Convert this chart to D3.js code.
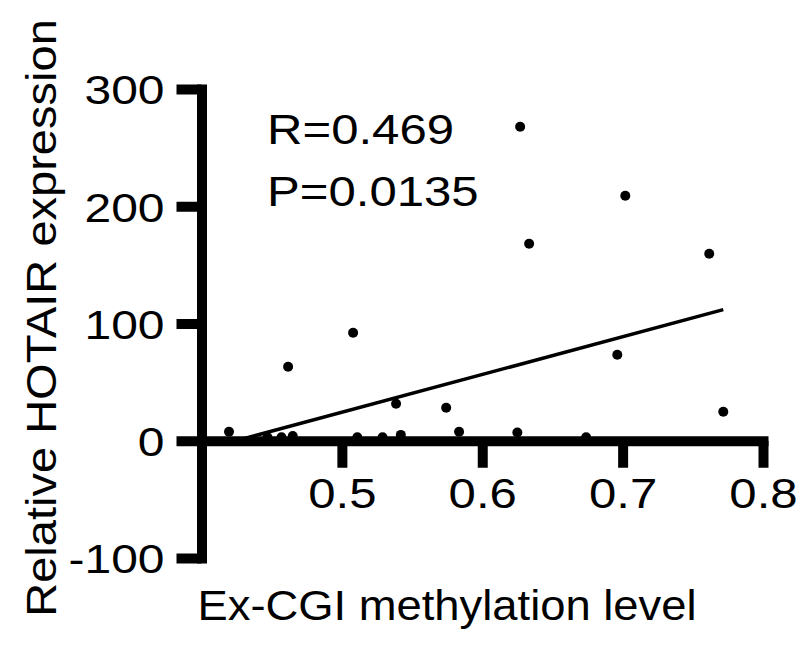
<!DOCTYPE html>
<html>
<head>
<meta charset="utf-8">
<script src="https://cdn.jsdelivr.net/npm/d3@7"></script>
<style>
  body { margin: 0; background: #fff; }
  svg { display: block; }
  text { font-family: "Liberation Sans", Arial, sans-serif; fill: #000; }
</style>
</head>
<body>
<div id="chart"></div>
<script>
// methylation level (x) and relative expression (y) of each sample
const methylation = [0.4196, 0.4617, 0.508, 0.5386, 0.5743, 0.5835, 0.627, 0.6334, 0.7019, 0.6962,
  0.7617, 0.7717, 0.447, 0.457, 0.465, 0.511, 0.529, 0.542, 0.625, 0.674];
const expression = [7.7, 63.1, 92.1, 31.6, 28.1, 7.7, 267.8, 168, 209, 73.3,
  159.5, 24.7, 3, 3, 4, 3, 3, 5, 7, 3];
const xTickValues = [0.5, 0.6, 0.7, 0.8];
const yTickValues = [-100, 0, 100, 200, 300];
// linear fit
const fitSlope = 322;
const fitIntercept = -136.7;
const fitRange = [0.4196, 0.7717];
const statLabels = ['R=0.469', 'P=0.0135'];

const width = 802;
const height = 650;
const stretch = 1.17;

const svg = d3.select('#chart').append('svg')
  .attr('width', width)
  .attr('height', height);

const xScale = d3.scaleLinear().domain([0.4, 0.8]).range([201.5, 763]);
const yScale = d3.scaleLinear().domain([-100, 300]).range([558, 89]);

// y軸
const yAxis = svg.append('g')
  .attr('transform', 'translate(' + xScale(0.4) + ',0)')
  .call(d3.axisLeft(yScale).tickValues(yTickValues).tickSize(25).tickSizeOuter(0).tickFormat(d3.format('d')));

// x軸
const xAxis = svg.append('g')
  .attr('transform', 'translate(0,' + yScale(0) + ')')
  .call(d3.axisBottom(xScale).tickValues(xTickValues).tickSize(27).tickSizeOuter(0).tickFormat(d3.format('.1f')));

[xAxis, yAxis].forEach(function (g) {
  g.select('.domain')
    .attr('stroke', '#000')
    .attr('stroke-width', 10)
    .attr('stroke-linecap', 'square');
  g.selectAll('.tick line')
    .attr('stroke', '#000')
    .attr('stroke-width', 10);
  g.selectAll('.tick text').remove();
});

// tick labels (slightly wide font)
yAxis.selectAll('.tick').append('text')
  .attr('transform', 'translate(-37,0) scale(' + stretch + ',1)')
  .attr('text-anchor', 'end')
  .attr('dy', '0.36em')
  .style('font-size', '41px')
  .text(function (d) { return d; });

xAxis.selectAll('.tick').append('text')
  .attr('transform', 'translate(0,67) scale(' + stretch + ',1)')
  .attr('text-anchor', 'middle')
  .style('font-size', '42px')
  .text(function (d) { return d3.format('.1f')(d); });

// regression line
svg.append('line')
  .attr('x1', xScale(fitRange[0]))
  .attr('y1', yScale(fitIntercept + fitSlope * fitRange[0]))
  .attr('x2', xScale(fitRange[1]))
  .attr('y2', yScale(fitIntercept + fitSlope * fitRange[1]))
  .attr('stroke', '#000')
  .attr('stroke-width', 3.5);

// points
svg.append('g').selectAll('circle')
  .data(methylation)
  .join('circle')
  .attr('cx', function (d) { return xScale(d); })
  .attr('cy', function (d, i) { return yScale(expression[i]); })
  .attr('r', 5)
  .attr('fill', '#000');

// R and P
svg.append('g').selectAll('text')
  .data(statLabels)
  .join('text')
  .attr('transform', function (d, i) { return 'translate(267,' + (144 + i * 62) + ') scale(' + stretch + ',1)'; })
  .style('font-size', '42px')
  .text(function (d) { return d; });

// axis titles
svg.append('text')
  .attr('transform', 'translate(447,620) scale(1.08,1)')
  .attr('text-anchor', 'middle')
  .style('font-size', '42px')
  .text('Ex-CGI methylation level');

svg.append('text')
  .attr('transform', 'translate(56,318) rotate(-90) scale(1.12,1)')
  .attr('text-anchor', 'middle')
  .style('font-size', '42px')
  .text('Relative HOTAIR expression');
</script>
</body>
</html>
